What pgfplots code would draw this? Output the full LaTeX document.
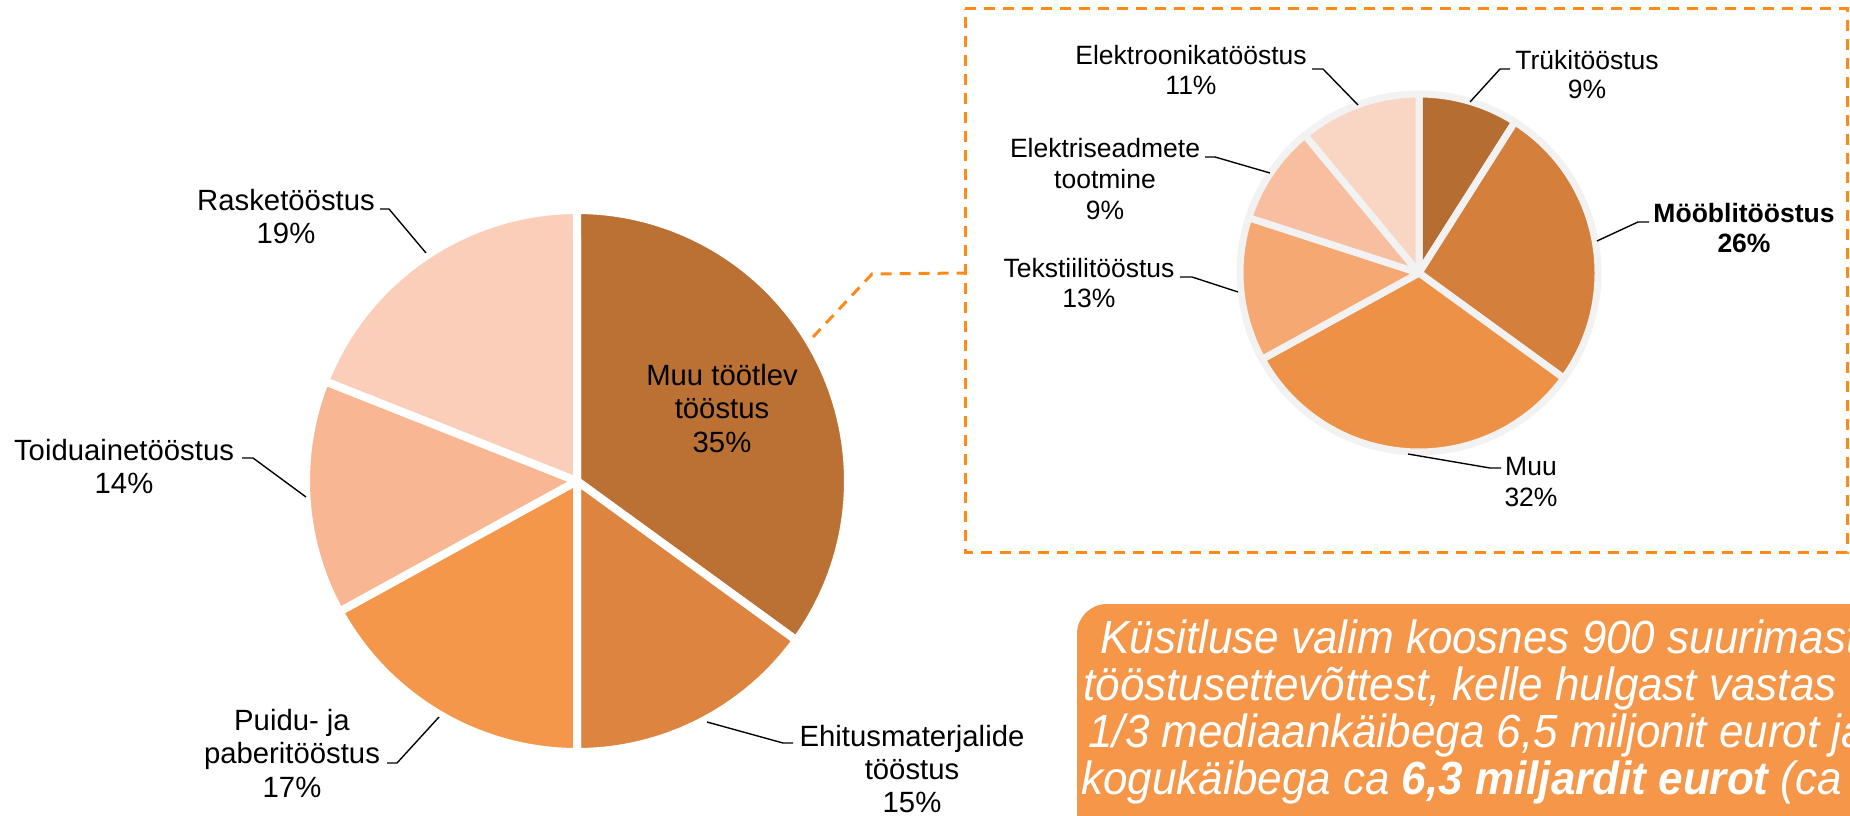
\documentclass[border=0pt]{standalone}
\usepackage{fontspec}
\setmainfont{Liberation Sans}
\usepackage{graphicx}
\usepackage{pgfplots}
\pgfplotsset{compat=1.18}
% big pie colours
\definecolor{bA}{HTML}{BB7134}
\definecolor{bB}{HTML}{DC8440}
\definecolor{bC}{HTML}{F5974A}
\definecolor{bD}{HTML}{F8B692}
\definecolor{bE}{HTML}{FBCEBA}
% small pie colours
\definecolor{sA}{HTML}{B56D32}
\definecolor{sB}{HTML}{D4803C}
\definecolor{sC}{HTML}{EC9146}
\definecolor{sD}{HTML}{F6A873}
\definecolor{sE}{HTML}{F7BFA0}
\definecolor{sF}{HTML}{F9D5C4}
\definecolor{ringgray}{HTML}{F2F2F2}
\definecolor{boxorange}{HTML}{F59648}
\definecolor{dashorange}{HTML}{FF8A1A}
\newcommand\bigf{\fontsize{11.72bp}{13.4bp}\selectfont}
\newcommand\smf{\fontsize{10.6bp}{12bp}\selectfont}
\newcommand\boxf{\fontsize{18.6bp}{18.8bp}\selectfont\itshape}
\newcommand\boxline[1]{\scalebox{0.946}[1]{#1}}
% big pie: centre (577,481), r=271 ; small pie: centre (1419,273), r=179
% slice: #1 colour, #2 start %, #3 end %
\newcommand\bigslice[3]{%
  \addplot[fill=#1, draw=white, line width=3.2bp, line join=round, domain=#2:#3, samples=80]
    ({577+271*cos(90-3.6*x)}, {481-271*sin(90-3.6*x)}) -- (axis cs:577,481) -- cycle;}
\newcommand\smslice[3]{%
  \addplot[fill=#1, draw=ringgray, line width=2.8bp, line join=round, domain=#2:#3, samples=80]
    ({1419+179*cos(90-3.6*x)}, {273-179*sin(90-3.6*x)}) -- (axis cs:1419,273) -- cycle;}
\begin{document}
\begin{tikzpicture}
\begin{axis}[name=ax, scale only axis, width=740bp, height=326.4bp,
  xmin=0, xmax=1850, ymin=0, ymax=816, y dir=reverse, hide axis, clip=true]
% ---------- big pie: values 35, 15, 17, 14, 19 (cumulative 0,35,50,67,81,100)
\bigslice{bA}{0}{35}
\bigslice{bB}{35}{50}
\bigslice{bC}{50}{67}
\bigslice{bD}{67}{81}
\bigslice{bE}{81}{100}
% ---------- dashed frame and connector
\addplot[dashorange, line width=1.2bp, dash pattern=on 4.4bp off 3.2bp] coordinates {(965,9) (1847,9) (1847,552) (965,552) (965,9)};
\addplot[dashorange, line width=1.2bp, dash pattern=on 4.4bp off 3.2bp] coordinates {(813,337) (872,274) (964,273)};
% ---------- small pie: values 9, 26, 32, 13, 9, 11 (cumulative 0,9,35,67,80,89,100)
\smslice{sA}{0}{9}
\smslice{sB}{9}{35}
\smslice{sC}{35}{67}
\smslice{sD}{67}{80}
\smslice{sE}{80}{89}
\smslice{sF}{89}{100}
% ---------- leader lines
\addplot[black, line width=0.55bp] coordinates {(380,209) (389,209) (426,253)};
\addplot[black, line width=0.55bp] coordinates {(242,458) (253,458) (306,497)};
\addplot[black, line width=0.55bp] coordinates {(387,763) (397,763) (439,717)};
\addplot[black, line width=0.55bp] coordinates {(707,722) (783,743) (793,743)};
\addplot[black, line width=0.55bp] coordinates {(1312,69) (1323,69) (1358,105)};
\addplot[black, line width=0.55bp] coordinates {(1205,157) (1215,157) (1270,173)};
\addplot[black, line width=0.55bp] coordinates {(1180,277) (1192,277) (1238,292)};
\addplot[black, line width=0.55bp] coordinates {(1470,102) (1500,69) (1510,69)};
\addplot[black, line width=0.55bp] coordinates {(1597,241) (1638,222) (1649,222)};
\addplot[black, line width=0.55bp] coordinates {(1408,454) (1490,468) (1501,468)};
% ---------- big pie labels
\node[anchor=base, inner sep=0, font=\bigf] at (286,210.5) {Rasketööstus};
\node[anchor=base, inner sep=0, font=\bigf] at (286,243.5) {19\%};
\node[anchor=base, inner sep=0, font=\bigf] at (124,460) {Toiduainetööstus};
\node[anchor=base, inner sep=0, font=\bigf] at (124,493) {14\%};
\node[anchor=base, inner sep=0, font=\bigf] at (292,730) {Puidu- ja};
\node[anchor=base, inner sep=0, font=\bigf] at (292,763.5) {paberitööstus};
\node[anchor=base, inner sep=0, font=\bigf] at (292,797) {17\%};
\node[anchor=base, inner sep=0, font=\bigf] at (912,746) {Ehitusmaterjalide};
\node[anchor=base, inner sep=0, font=\bigf] at (912,779) {tööstus};
\node[anchor=base, inner sep=0, font=\bigf] at (912,812) {15\%};
\node[anchor=base, inner sep=0, font=\bigf] at (722,385) {Muu töötlev};
\node[anchor=base, inner sep=0, font=\bigf] at (722,418.5) {tööstus};
\node[anchor=base, inner sep=0, font=\bigf] at (722,452) {35\%};
% ---------- small pie labels
\node[anchor=base, inner sep=0, font=\smf] at (1191,65) {Elektroonikatööstus};
\node[anchor=base, inner sep=0, font=\smf] at (1191,95) {11\%};
\node[anchor=base, inner sep=0, font=\smf] at (1105,158) {Elektriseadmete};
\node[anchor=base, inner sep=0, font=\smf] at (1105,189) {tootmine};
\node[anchor=base, inner sep=0, font=\smf] at (1105,220) {9\%};
\node[anchor=base, inner sep=0, font=\smf] at (1089,278) {Tekstiilitööstus};
\node[anchor=base, inner sep=0, font=\smf] at (1089,308) {13\%};
\node[anchor=base, inner sep=0, font=\smf] at (1587,70) {Trükitööstus};
\node[anchor=base, inner sep=0, font=\smf] at (1587,99) {9\%};
\node[anchor=base, inner sep=0, font=\smf\bfseries] at (1744,223) {Mööblitööstus};
\node[anchor=base, inner sep=0, font=\smf\bfseries] at (1744,253) {26\%};
\node[anchor=base, inner sep=0, font=\smf] at (1531,475) {Muu};
\node[anchor=base, inner sep=0, font=\smf] at (1531,506) {32\%};
% ---------- note box
\addplot[fill=boxorange, draw=none, rounded corners=12bp] coordinates {(1077,900) (1077,604) (2100,604) (2100,900)} -- cycle;
\node[anchor=base west, inner sep=0, font=\boxf, text=white] at (1100,653) {\boxline{Küsitluse valim koosnes 900 suurimast}};
\node[anchor=base west, inner sep=0, font=\boxf, text=white] at (1083,700) {\boxline{tööstusettevõttest, kelle hulgast vastas}};
\node[anchor=base west, inner sep=0, font=\boxf, text=white] at (1088,747) {\boxline{1/3 mediaankäibega 6,5 miljonit eurot ja}};
\node[anchor=base west, inner sep=0, font=\boxf, text=white] at (1081,794) {\boxline{kogukäibega ca \textbf{6,3 miljardit eurot} (ca}};
\end{axis}
\pgfresetboundingbox
\path[use as bounding box] (ax.south west) rectangle (ax.north east);
\end{tikzpicture}
\end{document}
